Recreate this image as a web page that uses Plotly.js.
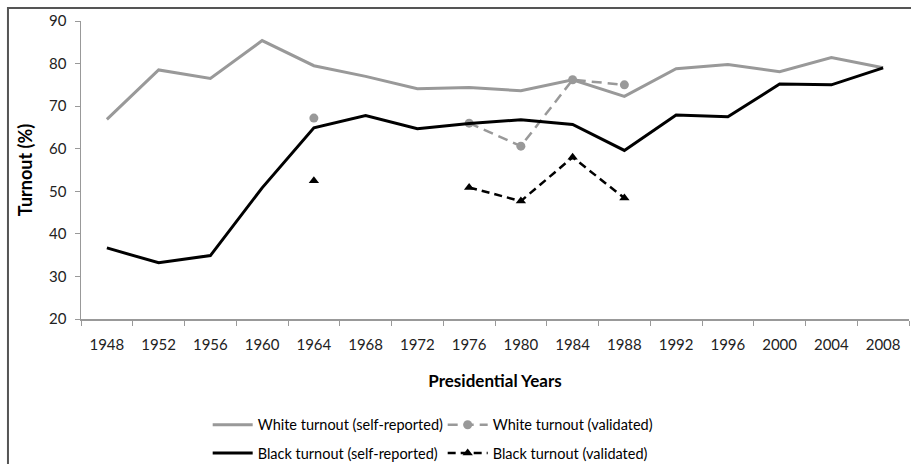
<!DOCTYPE html>
<html><head><meta charset="utf-8">
<script src="https://cdn.plot.ly/plotly-3.0.1.min.js"></script>
<style>html,body{margin:0;padding:0;background:#fff;}#chart{width:911px;height:464px;}</style>
</head><body><div id="chart"></div>
<script>
const years = ['1948','1952','1956','1960','1964','1968','1972','1976','1980','1984','1988','1992','1996','2000','2004','2008'];
const whiteSelf = [66.9,78.5,76.5,85.4,79.5,77.0,74.1,74.4,73.6,76.2,72.3,78.8,79.8,78.1,81.4,79.0];
const blackSelf = [36.7,33.2,34.9,50.8,64.9,67.8,64.7,65.9,66.8,65.7,59.6,67.9,67.5,75.2,75.0,79.0];
const whiteValid = [null,null,null,null,67.2,null,null,66.0,60.6,76.2,75.0,null,null,null,null,null];
const blackValid = [null,null,null,null,52.5,null,null,50.9,47.7,58.0,48.4,null,null,null,null,null];
const FONT = 'Lato, "Open Sans", sans-serif';

const traces = [
  {x: years, y: whiteSelf, name: 'White turnout (self-reported)', type: 'scatter', mode: 'lines',
   line: {color: '#999999', width: 3}, legend: 'legend'},
  {x: years, y: whiteValid, name: 'White turnout (validated)', type: 'scatter', mode: 'lines+markers',
   line: {color: '#999999', width: 2.5, dash: '10px,6px'}, marker: {symbol: 'circle', size: 9, color: '#999999'},
   connectgaps: false, legend: 'legend'},
  {x: years, y: blackSelf, name: 'Black turnout (self-reported)', type: 'scatter', mode: 'lines',
   line: {color: '#000000', width: 3}, legend: 'legend2'},
  {x: years, y: blackValid, name: 'Black turnout (validated)', type: 'scatter', mode: 'lines+markers',
   line: {color: '#000000', width: 2.5, dash: '8px,5px'}, marker: {symbol: 'triangle-up', size: 9, color: '#000000'},
   connectgaps: false, legend: 'legend2'}
];

const legendCommon = {orientation: 'h', xanchor: 'left', yanchor: 'middle', entrywidth: 180, entrywidthmode: 'pixels',
  font: {family: FONT, size: 14.5, color: '#000'}, bgcolor: 'rgba(0,0,0,0)', itemwidth: 40, tracegroupgap: 0};

const layout = {
  width: 911, height: 464,
  margin: {l: 81, r: 2, t: 21, b: 145, autoexpand: false},
  paper_bgcolor: '#fff', plot_bgcolor: '#fff',
  font: {family: FONT, size: 15, color: '#222'},
  showlegend: true,
  xaxis: {type: 'category', range: [-0.5, 15.5], autorange: false, automargin: false, showgrid: false, zeroline: false, showline: true, linecolor: '#999', linewidth: 1.5,
    ticks: 'outside', tickson: 'boundaries', ticklen: 5, tickcolor: '#999', tickwidth: 1, ticklabelstandoff: 11,
    tickfont: {family: FONT, size: 15, color: '#222'},
    title: {text: '<b>Presidential Years</b>', font: {family: FONT, size: 17, color: '#000'}, standoff: 23}},
  yaxis: {range: [20, 90], autorange: false, automargin: false, dtick: 10, showgrid: false, zeroline: false, showline: true, linecolor: '#999', linewidth: 1.5,
    ticks: 'outside', ticklen: 5, tickcolor: '#999', tickwidth: 1, ticklabelstandoff: 5,
    tickfont: {family: FONT, size: 15, color: '#222'},
    title: {text: '<b>Turnout (%)</b>', font: {family: FONT, size: 18, color: '#000'}, standoff: 12}},
  legend: Object.assign({}, legendCommon, {x: 0.153, y: -0.355}),
  legend2: Object.assign({}, legendCommon, {x: 0.153, y: -0.45}),
  shapes: [
    {type: 'rect', xref: 'paper', yref: 'paper', x0: -0.0882, x1: 1.2, y0: -0.7, y1: 1.0436,
     line: {color: '#555', width: 2}, fillcolor: 'rgba(0,0,0,0)'}
  ]
};

Plotly.newPlot('chart', traces, layout, {displayModeBar: false, staticPlot: true});
</script></body></html>
